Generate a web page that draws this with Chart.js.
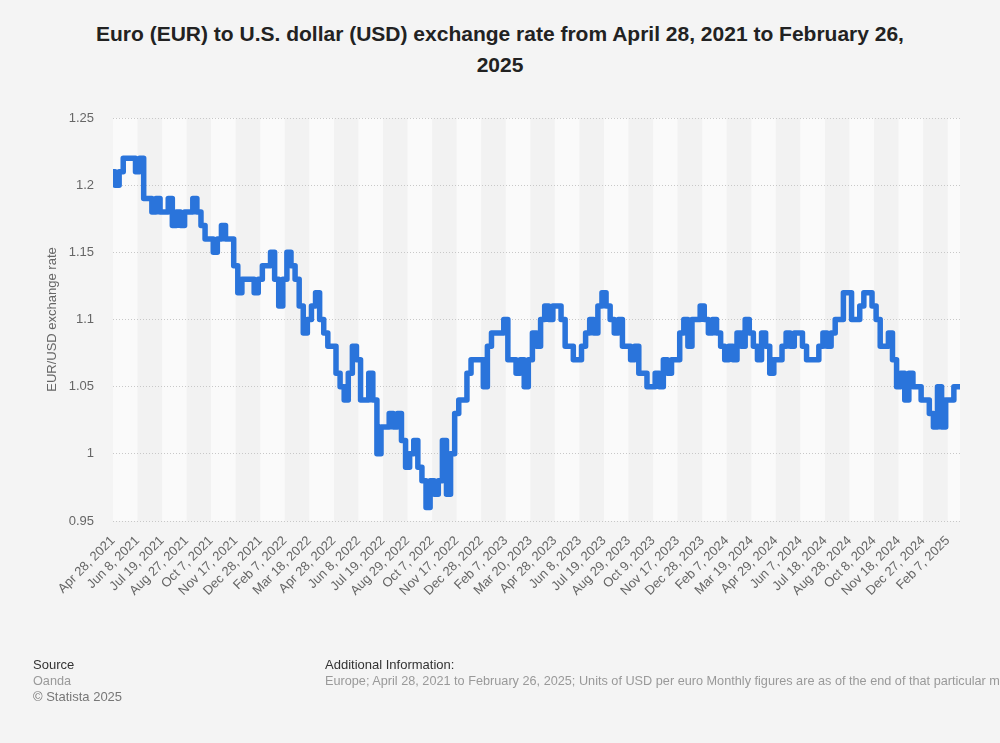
<!DOCTYPE html>
<html>
<head>
<meta charset="utf-8">
<script src="https://cdn.jsdelivr.net/npm/chart.js@4"></script>
<style>
  html, body { margin: 0; padding: 0; background: #f4f4f4; }
  body { width: 1000px; height: 743px; position: relative; overflow: hidden; font-family: "Liberation Sans", Arial, sans-serif; }
  #title { position: absolute; left: 0; top: 18px; width: 1000px; text-align: center; font-weight: bold; font-size: 21px; line-height: 31px; color: #222; }
  #chart { position: absolute; left: 0; top: 0; }
  .foot { position: absolute; top: 657px; font-size: 13px; line-height: 16px; white-space: nowrap; }
  .foot .head { color: #333; }
  .foot .light { color: #999; font-size: 12.7px; }
  .foot .mid { color: #777; }
</style>
</head>
<body>
<div id="title">Euro (EUR) to U.S. dollar (USD) exchange rate from April 28, 2021 to February 26,<br>2025</div>
<canvas id="chart" width="1000" height="743"></canvas>
<div class="foot" style="left:33px">
  <div class="head">Source</div>
  <div class="light">Oanda</div>
  <div class="mid">© Statista 2025</div>
</div>
<div class="foot" style="left:325px">
  <div class="head">Additional Information:</div>
  <div class="light">Europe; April 28, 2021 to February 26, 2025; Units of USD per euro Monthly figures are as of the end of that particular month</div>
</div>
<script>
// one label every 6 points
const tickLabels = [
  'Apr 28, 2021', 'Jun 8, 2021', 'Jul 19, 2021', 'Aug 27, 2021', 'Oct 7, 2021',
  'Nov 17, 2021', 'Dec 28, 2021', 'Feb 7, 2022', 'Mar 18, 2022', 'Apr 28, 2022',
  'Jun 8, 2022', 'Jul 19, 2022', 'Aug 29, 2022', 'Oct 7, 2022', 'Nov 17, 2022',
  'Dec 28, 2022', 'Feb 7, 2023', 'Mar 20, 2023', 'Apr 28, 2023', 'Jun 8, 2023',
  'Jul 19, 2023', 'Aug 29, 2023', 'Oct 9, 2023', 'Nov 17, 2023', 'Dec 28, 2023',
  'Feb 7, 2024', 'Mar 19, 2024', 'Apr 29, 2024', 'Jun 7, 2024', 'Jul 18, 2024',
  'Aug 28, 2024', 'Oct 8, 2024', 'Nov 18, 2024', 'Dec 27, 2024', 'Feb 7, 2025'
];
const pointsPerTick = 6;

const rates = [
  1.21, 1.20, 1.21, 1.22, 1.22, 1.22, 1.21, 1.22, 1.19, 1.19,
  1.18, 1.19, 1.18, 1.18, 1.19, 1.17, 1.18, 1.17, 1.18, 1.18,
  1.19, 1.18, 1.17, 1.16, 1.16, 1.15, 1.16, 1.17, 1.16, 1.16,
  1.14, 1.12, 1.13, 1.13, 1.13, 1.12, 1.13, 1.14, 1.14, 1.15,
  1.13, 1.11, 1.13, 1.15, 1.14, 1.13, 1.11, 1.09, 1.10, 1.11,
  1.12, 1.10, 1.09, 1.08, 1.08, 1.06, 1.05, 1.04, 1.06, 1.08,
  1.07, 1.04, 1.04, 1.06, 1.04, 1.00, 1.02, 1.02, 1.03, 1.02,
  1.03, 1.01, 0.99, 1.00, 1.01, 0.99, 0.98, 0.96, 0.98, 0.97,
  0.98, 1.01, 0.97, 1.00, 1.03, 1.04, 1.04, 1.06, 1.07, 1.07,
  1.07, 1.05, 1.08, 1.09, 1.09, 1.09, 1.10, 1.07, 1.07, 1.06,
  1.07, 1.05, 1.07, 1.09, 1.08, 1.10, 1.11, 1.10, 1.11, 1.11,
  1.10, 1.08, 1.08, 1.07, 1.07, 1.08, 1.09, 1.10, 1.09, 1.11,
  1.12, 1.11, 1.10, 1.09, 1.10, 1.08, 1.08, 1.07, 1.08, 1.06,
  1.06, 1.05, 1.05, 1.06, 1.05, 1.07, 1.06, 1.07, 1.07, 1.09,
  1.10, 1.08, 1.10, 1.10, 1.11, 1.10, 1.09, 1.10, 1.09, 1.08,
  1.07, 1.08, 1.07, 1.09, 1.08, 1.10, 1.09, 1.08, 1.07, 1.09,
  1.08, 1.06, 1.07, 1.07, 1.08, 1.09, 1.08, 1.09, 1.09, 1.08,
  1.07, 1.07, 1.07, 1.08, 1.09, 1.08, 1.09, 1.10, 1.10, 1.12,
  1.12, 1.10, 1.10, 1.11, 1.12, 1.12, 1.11, 1.10, 1.08, 1.08,
  1.09, 1.07, 1.05, 1.06, 1.04, 1.06, 1.05, 1.05, 1.04, 1.04,
  1.03, 1.02, 1.05, 1.02, 1.04, 1.04, 1.05, 1.05
];

// alternating column bands behind grid and line, one per tick interval
const bands = {
  id: 'bands',
  beforeDraw(chart) {
    const { ctx, chartArea, scales } = chart;
    const x = scales.x;
    const last = rates.length - 1;
    ctx.save();
    for (let k = 0; k < tickLabels.length; k++) {
      const x0 = x.getPixelForValue(k * pointsPerTick);
      const x1 = x.getPixelForValue(Math.min((k + 1) * pointsPerTick, last));
      ctx.fillStyle = k % 2 === 0 ? '#fafafa' : '#f2f2f2';
      ctx.fillRect(x0, chartArea.top, x1 - x0, chartArea.bottom - chartArea.top);
    }
    ctx.restore();
  }
};

const axisFont = { family: 'Liberation Sans', size: 13 };

new Chart(document.getElementById('chart'), {
  type: 'line',
  data: {
    datasets: [{
      data: rates.map((v, i) => ({ x: i, y: v })),
      borderColor: '#2a74db',
      borderWidth: 5.5,
      pointRadius: 0,
      stepped: 'middle',
      borderJoinStyle: 'round',
      borderCapStyle: 'round'
    }]
  },
  options: {
    responsive: false,
    animation: false,
    layout: { padding: { left: 41, right: 40, top: 118, bottom: 102 } },
    plugins: { legend: { display: false }, tooltip: { enabled: false } },
    scales: {
      x: {
        type: 'linear',
        min: 0,
        max: rates.length - 1,
        afterFit(s) { s.height = 120; },
        grid: { display: false },
        border: { display: false },
        ticks: {
          stepSize: pointsPerTick,
          includeBounds: false,
          autoSkip: false,
          minRotation: 45,
          maxRotation: 45,
          padding: 4,
          color: '#666',
          font: axisFont,
          callback: v => tickLabels[v / pointsPerTick] ?? ''
        }
      },
      y: {
        min: 0.95,
        max: 1.25,
        afterFit(s) { s.width = 72; },
        grid: { color: '#c8c8c8', lineWidth: 1, drawTicks: false },
        border: { display: false, dash: [1, 2] },
        title: {
          display: true,
          text: 'EUR/USD exchange rate',
          color: '#666',
          font: axisFont
        },
        ticks: {
          stepSize: 0.05,
          padding: 19,
          color: '#666',
          font: axisFont,
          callback: v => String(parseFloat(v.toFixed(2)))
        }
      }
    }
  },
  plugins: [bands]
});
</script>
</body>
</html>
